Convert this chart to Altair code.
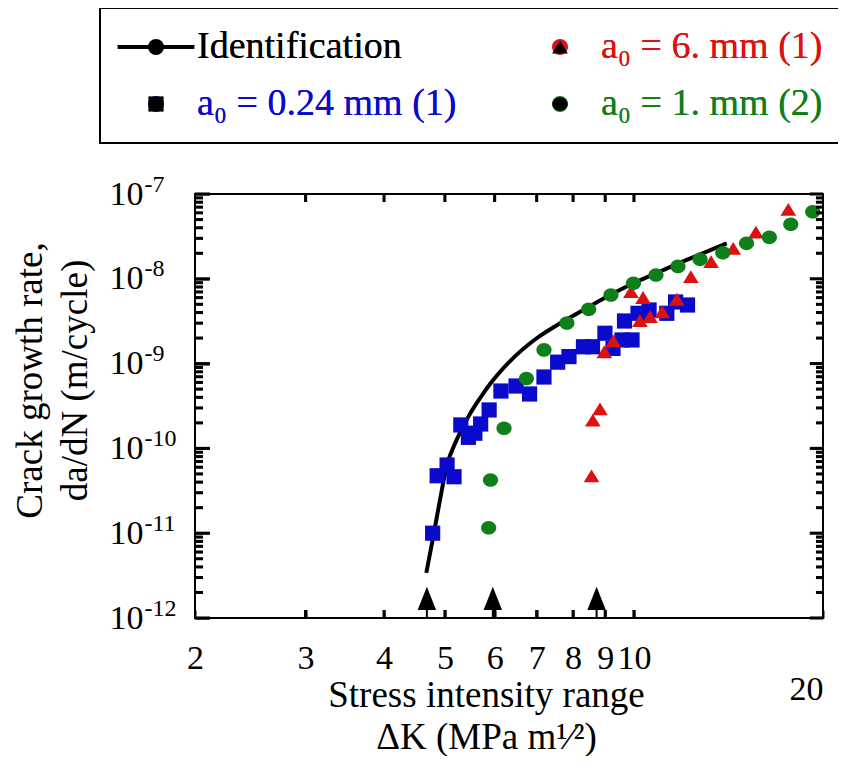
import altair as alt
import pandas as pd

SERIF = "Liberation Serif"

# ---------------- data ----------------
S_ID = "Identification"
S_6 = "a₀ = 6. mm (1)"
S_024 = "a₀ = 0.24 mm (1)"
S_1 = "a₀ = 1. mm (2)"

# legend fills column by column: (ID, 0.24 mm) | (6 mm, 1 mm)
series_names = [S_ID, S_024, S_6, S_1]
series_colors = ["#000000", "#0a0acc", "#dd1111", "#0f7f1a"]

ident_K = [4.67, 4.78, 4.91, 5.03, 5.22, 5.45, 5.69, 5.90, 6.35, 7.00, 7.63, 8.31,
           9.16, 9.85, 11.14, 12.13, 13.06, 14.05]
ident_rate = [3.40e-12, 8.32e-12, 2.46e-11, 6.09e-11, 1.26e-10, 2.37e-10, 3.93e-10,
              5.74e-10, 1.07e-9, 1.99e-9, 2.99e-9, 4.29e-9, 6.44e-9, 8.45e-9,
              1.27e-8, 1.67e-8, 2.09e-8, 2.62e-8]

blue_K = [4.78, 4.86, 5.04, 5.17, 5.30, 5.45, 5.58, 5.70, 5.88, 6.14, 6.49, 6.82,
          7.19, 7.56, 7.88, 8.31, 8.59, 8.99, 9.26, 9.57, 9.66, 9.93, 10.15, 10.57,
          11.28, 11.65, 12.17]
blue_rate = [1.0e-11, 4.76e-11, 6.37e-11, 4.63e-11, 1.89e-10, 1.35e-10, 1.51e-10,
             1.94e-10, 2.84e-10, 4.75e-10, 5.44e-10, 4.38e-10, 6.95e-10, 1.04e-9,
             1.21e-9, 1.58e-9, 1.58e-9, 2.28e-9, 1.51e-9, 1.90e-9, 3.18e-9, 1.90e-9,
             3.92e-9, 4.29e-9, 3.92e-9, 5.33e-9, 4.91e-9]

red_K = [8.56, 8.60, 8.83, 8.97, 9.27, 9.89, 10.22, 10.34, 10.61, 11.09, 11.70,
         12.32, 13.27, 14.39, 15.64, 17.61]
red_rate = [4.73e-11, 2.16e-10, 2.92e-10, 1.38e-9, 1.85e-9, 7.05e-9, 3.22e-9,
            6.02e-9, 3.59e-9, 4.09e-9, 5.74e-9, 1.06e-8, 1.59e-8, 2.29e-8,
            3.56e-8, 6.60e-8]

green_K = [5.87, 5.91, 6.21, 6.74, 7.19, 7.82, 8.47, 9.19, 9.98, 10.84, 11.75,
           12.74, 13.85, 15.11, 16.43, 17.77, 19.26]
green_rate = [1.16e-11, 4.24e-11, 1.73e-10, 6.67e-10, 1.45e-9, 3.01e-9, 4.37e-9,
              6.44e-9, 8.85e-9, 1.11e-8, 1.40e-8, 1.70e-8, 2.03e-8, 2.62e-8,
              3.09e-8, 4.39e-8, 6.18e-8]

arrow_K = [4.68, 5.96, 8.72]
arrow_rate = [1e-12, 1e-12, 1e-12]

x_domain = [2.0, 20.0]
y_domain = [1e-12, 1e-7]
x_tick_values = [2, 3, 4, 5, 6, 7, 8, 9, 10, 20]
x_inner_ticks = [3.0, 4.0, 5.0, 6.0, 7.0, 8.0, 9.0, 10.0]
y_major_values = [1e-12, 1e-11, 1e-10, 1e-9, 1e-8, 1e-7]
y_minor_values = [m * 10.0 ** e for e in range(-12, -7) for m in range(2, 10)]

x_title = ["Stress intensity range", "ΔK (MPa m¹⁄²)"]
y_title = ["Crack growth rate,", "da/dN (m/cycle)"]

# ---------------- styles ----------------
W, H = 628, 424
SHAPE_LINE = "M-4.8,-0.25H4.8V0.25H-4.8Z"
SHAPE_TRI = "M0,-0.8L0.98,0.8L-0.98,0.8Z"
SHAPE_SQ = "M-0.95,-0.95H0.95V0.95H-0.95Z"
SHAPE_CIRC = "M-0.95,0A0.95,0.85,0,1,0,0.95,0A0.95,0.85,0,1,0,-0.95,0Z"
series_shapes = [SHAPE_LINE, SHAPE_SQ, SHAPE_TRI, SHAPE_CIRC]
ARROW = "M0,-2.85L0.84,-0.73L0.09,-0.73L0.09,0L-0.09,0L-0.09,-0.73L-0.84,-0.73Z"
# tick glyphs at symbol size 484 (1 unit = 11 px), pointing inward from the frame edge
TICK_LEFT_MAJ = "M0,-0.14L1.36,-0.14L1.36,0.14L0,0.14Z"
TICK_LEFT_MIN = "M0,-0.14L0.73,-0.14L0.73,0.14L0,0.14Z"
TICK_RIGHT_MAJ = "M-1.2,-0.14L0,-0.14L0,0.14L-1.2,0.14Z"
TICK_RIGHT_MIN = "M-0.64,-0.14L0,-0.14L0,0.14L-0.64,0.14Z"
TICK_BOTTOM = "M-0.14,-0.73L0.14,-0.73L0.14,0L-0.14,0Z"
TICK_TOP = "M-0.14,0L0.14,0L0.14,0.73L-0.14,0.73Z"

# ---------------- tables ----------------
line_df = pd.DataFrame({"K": ident_K, "rate": ident_rate})
pts_df = pd.concat([
    pd.DataFrame({"K": blue_K, "rate": blue_rate, "series": S_024}),
    pd.DataFrame({"K": red_K, "rate": red_rate, "series": S_6}),
    pd.DataFrame({"K": green_K, "rate": green_rate, "series": S_1}),
], ignore_index=True)
arrow_df = pd.DataFrame({"K": arrow_K, "rate": arrow_rate})

n_maj, n_min, n_x = len(y_major_values), len(y_minor_values), len(x_inner_ticks)
tick_df = pd.concat([
    pd.DataFrame({"K": [x_domain[0]] * n_maj, "rate": y_major_values, "kind": "left_major"}),
    pd.DataFrame({"K": [x_domain[0]] * n_min, "rate": y_minor_values, "kind": "left_minor"}),
    pd.DataFrame({"K": [x_domain[1]] * n_maj, "rate": y_major_values, "kind": "right_major"}),
    pd.DataFrame({"K": [x_domain[1]] * n_min, "rate": y_minor_values, "kind": "right_minor"}),
    pd.DataFrame({"K": x_inner_ticks, "rate": [y_domain[0]] * n_x, "kind": "bottom"}),
    pd.DataFrame({"K": x_inner_ticks, "rate": [y_domain[1]] * n_x, "kind": "top"}),
], ignore_index=True)
tick_kinds = ["left_major", "left_minor", "right_major", "right_minor", "bottom", "top"]
tick_shapes = [TICK_LEFT_MAJ, TICK_LEFT_MIN, TICK_RIGHT_MAJ, TICK_RIGHT_MIN, TICK_BOTTOM, TICK_TOP]

xs = alt.Scale(type="log", domain=x_domain, nice=False)
ys = alt.Scale(type="log", domain=y_domain, nice=False)

x_bottom = alt.Axis(
    orient="bottom", values=x_tick_values, domain=False, grid=False,
    ticks=True, offset=-8, tickSize=8, tickColor="black", tickWidth=2,
    labelExpr="datum.value == 20 ? ['', '20'] : '' + datum.value",
    labelFont=SERIF, labelFontSize=34, labelColor="black", labelPadding=23,
    labelBaseline="top", labelLineHeight=31, labelFlush=False, labelOverlap=False,
    labelAlign={"condition": {"test": "datum.value == 20", "value": "right"}, "value": "center"},
    title=x_title, titleFont=SERIF, titleFontSize=37, titleFontWeight="normal",
    titleColor="black", titleX=291, titleY=67, titleAlign="center",
    titleBaseline="top", titleLineHeight=42,
)
y_left = alt.Axis(
    orient="left", values=y_major_values, domain=False, grid=False,
    ticks=True, offset=-14, tickSize=14, tickColor="black", tickWidth=2,
    labelExpr="'10'",
    labelFont=SERIF, labelFontSize=34, labelColor="black", labelPadding=52,
    labelAlign="right", labelBaseline="middle", labelOverlap=False,
    title=y_title, titleFont=SERIF, titleFontSize=37, titleFontWeight="normal",
    titleColor="black", titleX=-160, titleY=186, titleAngle=270, titleAlign="center",
    titleBaseline="bottom", titleLineHeight=45,
)

legend = alt.Legend(
    title=None, orient="none", legendX=-95, legendY=-186, columns=2,
    columnPadding=67, rowPadding=19, padding=20, strokeColor="black",
    symbolOffset=17, labelOffset=22, symbolSize=256,
    labelFont=SERIF, labelFontSize=38, labelLimit=600,
    labelColor={"expr": f"datum.value == '{S_6}' ? '{series_colors[2]}' : "
                        f"datum.value == '{S_024}' ? '{series_colors[1]}' : "
                        f"datum.value == '{S_1}' ? '{series_colors[3]}' : 'black'"},
)

line = alt.Chart(line_df).mark_line(color="black", strokeWidth=4, interpolate="monotone").encode(
    x=alt.X("K:Q", scale=xs, axis=x_bottom),
    y=alt.Y("rate:Q", scale=ys, axis=y_left),
)

pts = alt.Chart(pts_df).mark_point(filled=True, size=256, opacity=1).encode(
    x=alt.X("K:Q", scale=xs, axis=None),
    y=alt.Y("rate:Q", scale=ys, axis=None),
    color=alt.Color("series:N", scale=alt.Scale(domain=series_names, range=series_colors), legend=legend),
    shape=alt.Shape("series:N", scale=alt.Scale(domain=series_names, range=series_shapes), legend=legend),
)

arrows = alt.Chart(arrow_df).mark_point(filled=True, size=484, opacity=1, color="black", shape=ARROW).encode(
    x=alt.X("K:Q", scale=xs, axis=None),
    y=alt.Y("rate:Q", scale=ys, axis=None),
)

# all frame ticks as one point layer, shape chosen per tick kind through a shape scale
ticks = alt.Chart(tick_df).mark_point(filled=True, size=484, opacity=1, color="black").encode(
    x=alt.X("K:Q", scale=xs, axis=None),
    y=alt.Y("rate:Q", scale=ys, axis=None),
    shape=alt.Shape("kind:N", scale=alt.Scale(domain=tick_kinds, range=tick_shapes), legend=None),
)

expo = alt.Chart(arrow_df).mark_point(opacity=0).encode(
    x=alt.X("K:Q", scale=xs, axis=None),
    y=alt.Y("rate:Q", scale=ys, axis=alt.Axis(
        orient="left", values=y_major_values, domain=False, grid=False,
        ticks=True, tickSize=0, tickOpacity=0,
        labelExpr="'-' + (-round(log(datum.value)/LN10))",
        labelFont=SERIF, labelFontSize=24, labelColor="black", labelPadding=51,
        labelAlign="left", labelBaseline="middle", labelOffset=-10, labelOverlap=False,
        title=None)),
)

chart = alt.layer(
    line, pts, arrows, ticks, expo
).resolve_axis(
    x="independent", y="independent"
).resolve_scale(
    shape="independent"
).properties(
    width=W, height=H,
    autosize=alt.AutoSizeParams(type="none"),
    padding={"left": 187, "top": 186, "right": 15, "bottom": 138},
).configure_view(
    stroke="black", strokeWidth=2
).configure_legend(
    strokeWidth=2
)

chart.save("out.html", embed_options={"renderer": "svg", "actions": False})
